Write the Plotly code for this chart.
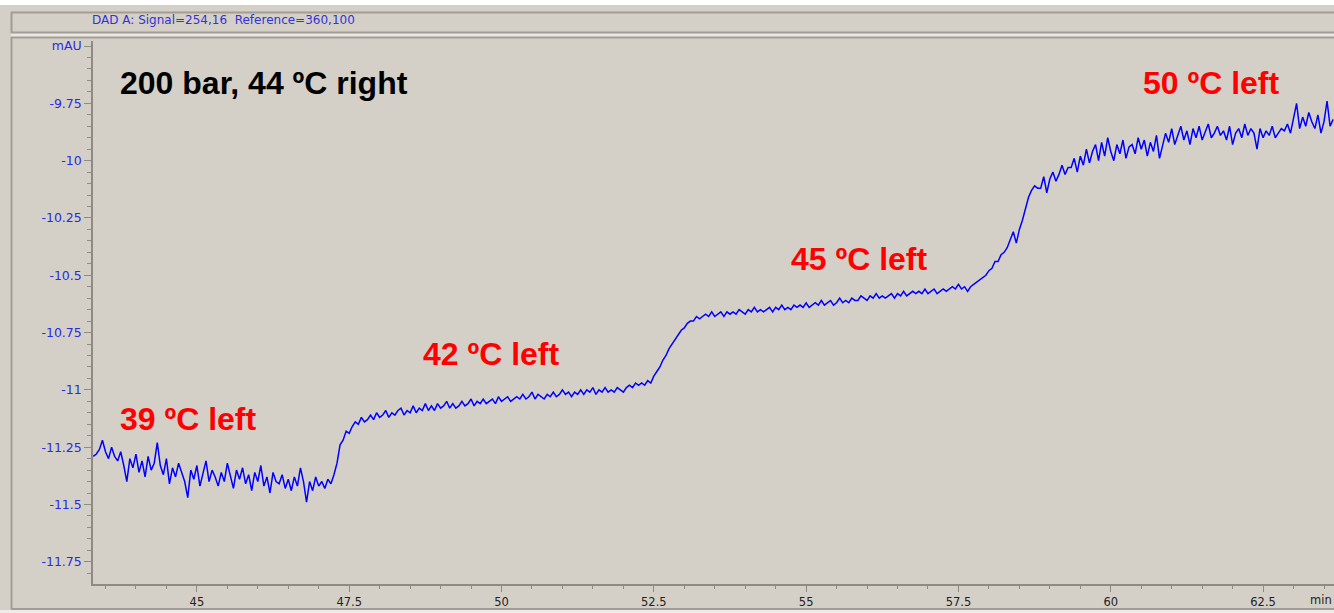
import plotly.graph_objects as go

# ---------------- data ----------------
sample_start_min = 43.30
sample_step_min = 0.05

signal_mau = [
    -11.29,
    -11.28, -11.26, -11.22, -11.27, -11.30, -11.25, -11.29, -11.31, -11.27, -11.33,
    -11.40, -11.30, -11.34, -11.28, -11.36, -11.31, -11.38, -11.29, -11.35, -11.32,
    -11.23, -11.33, -11.37, -11.30, -11.41, -11.34, -11.38, -11.32, -11.36, -11.40,
    -11.47, -11.35, -11.39, -11.33, -11.42, -11.36, -11.31, -11.40, -11.35, -11.38,
    -11.42, -11.36, -11.40, -11.32, -11.37, -11.43, -11.35, -11.39, -11.34, -11.41,
    -11.37, -11.44, -11.36, -11.40, -11.33, -11.42, -11.38, -11.45, -11.36, -11.40,
    -11.41, -11.37, -11.43, -11.39, -11.44, -11.38, -11.42, -11.34, -11.40, -11.49,
    -11.40, -11.44, -11.38, -11.42, -11.40, -11.43, -11.39, -11.41, -11.37, -11.32,
    -11.24, -11.22, -11.18, -11.19, -11.16, -11.14, -11.15, -11.12, -11.14, -11.13,
    -11.11, -11.13, -11.10, -11.12, -11.11, -11.09, -11.12, -11.10, -11.11, -11.09,
    -11.08, -11.11, -11.09, -11.10, -11.07, -11.10, -11.08, -11.09, -11.06, -11.09,
    -11.07, -11.09, -11.06, -11.08, -11.07, -11.05, -11.08, -11.06, -11.08, -11.07,
    -11.05, -11.07, -11.06, -11.04, -11.07, -11.05, -11.06, -11.04, -11.06, -11.05,
    -11.04, -11.06, -11.03, -11.05, -11.04, -11.03, -11.05, -11.04, -11.03, -11.04,
    -11.02, -11.04, -11.03, -11.01, -11.04, -11.02, -11.03, -11.04, -11.02, -11.03,
    -11.01, -11.03, -11.02, -11.00, -11.02, -11.01, -11.03, -11.01, -11.02, -11.00,
    -11.02, -11.00, -11.01, -10.99, -11.02, -11.00, -11.01, -10.99, -11.01, -11.00,
    -11.01, -10.99, -11.00, -11.01, -10.99, -10.98, -10.99, -10.97, -10.98, -10.97,
    -10.98, -10.96, -10.97, -10.94, -10.92, -10.90, -10.87, -10.85, -10.82, -10.80,
    -10.78, -10.76, -10.74, -10.73, -10.71, -10.70, -10.70, -10.68, -10.69, -10.68,
    -10.67, -10.68, -10.66, -10.68, -10.67, -10.66, -10.68, -10.66, -10.67, -10.66,
    -10.67, -10.65, -10.66, -10.67, -10.65, -10.66, -10.64, -10.66, -10.65, -10.66,
    -10.65, -10.64, -10.66, -10.64, -10.65, -10.63, -10.65, -10.64, -10.65, -10.63,
    -10.64, -10.63, -10.64, -10.62, -10.64, -10.63, -10.62, -10.63, -10.61, -10.63,
    -10.62, -10.61, -10.63, -10.62, -10.60, -10.62, -10.61, -10.62, -10.60, -10.61,
    -10.61, -10.59, -10.60, -10.61, -10.59, -10.60, -10.58, -10.60, -10.59, -10.60,
    -10.59, -10.58, -10.60, -10.58, -10.59, -10.57, -10.59, -10.58, -10.57, -10.58,
    -10.57, -10.58, -10.56, -10.58, -10.57, -10.56, -10.58, -10.57, -10.56, -10.57,
    -10.56, -10.55, -10.56, -10.54, -10.56, -10.55, -10.57, -10.55, -10.54, -10.53,
    -10.52, -10.51, -10.50, -10.48, -10.47, -10.44, -10.44, -10.41, -10.40, -10.38,
    -10.34, -10.31, -10.36, -10.30, -10.26, -10.21, -10.16, -10.13, -10.11, -10.12,
    -10.12, -10.07, -10.14, -10.08, -10.05, -10.09, -10.06, -10.02, -10.06, -10.03,
    -10.03, -9.99, -10.05, -9.98, -10.02, -9.95, -10.01, -9.96, -9.93, -10.00,
    -9.92, -9.98, -9.90, -9.96, -10.00, -9.93, -9.97, -9.91, -9.99, -9.94,
    -9.93, -9.97, -9.90, -9.95, -9.91, -9.98, -9.92, -9.96, -9.89, -9.99,
    -9.94, -9.88, -9.92, -9.86, -9.93, -9.89, -9.85, -9.91, -9.87, -9.93,
    -9.86, -9.90, -9.85, -9.91, -9.87, -9.84, -9.90, -9.88, -9.85, -9.89,
    -9.87, -9.91, -9.85, -9.93, -9.88, -9.86, -9.90, -9.84, -9.89, -9.86,
    -9.88, -9.95, -9.86, -9.90, -9.87, -9.89, -9.85, -9.90, -9.88, -9.86,
    -9.87, -9.84, -9.88, -9.82, -9.75, -9.86, -9.81, -9.85, -9.79, -9.83,
    -9.86, -9.80, -9.88, -9.83, -9.74, -9.85, -9.82,
]
time_min = [round(sample_start_min + i * sample_step_min, 3) for i in range(len(signal_mau))]

x_tick_values = [45, 47.5, 50, 52.5, 55, 57.5, 60, 62.5]
x_tick_labels = ["45", "47.5", "50", "52.5", "55", "57.5", "60", "62.5"]
y_tick_values = [-9.5, -9.75, -10, -10.25, -10.5, -10.75, -11, -11.25, -11.5, -11.75]
y_tick_labels = ["mAU", "-9.75", "-10", "-10.25", "-10.5", "-10.75", "-11", "-11.25", "-11.5", "-11.75"]

header_text = "DAD A: Signal=254,16  Reference=360,100"
title_text = "200 bar, 44 ºC right"
title_time, title_level = 43.70, -9.661
label_texts = ["39 ºC left", "42 ºC left", "45 ºC left", "50 ºC left"]
label_times = [43.70, 48.68, 54.72, 60.50]
label_levels = [-11.127, -10.843, -10.429, -9.661]

# ---------------- layout geometry ----------------
W, H = 1334, 613
ML, MR, MT, MB = 93, 0, 41, 29
PW, PH = W - ML - MR, H - MT - MB
BG = "#d4d0c8"
EDGE = "#a19d95"
AXIS = "#8e8b85"


def px(x):
    return (x - ML) / PW


def py(y):
    return (H - MB - y) / PH


fig = go.Figure()
fig.add_trace(go.Scatter(
    x=time_min, y=signal_mau, mode="lines",
    line=dict(color="#0000ff", width=1.5),
    hoverinfo="skip", showlegend=False,
))

shapes = []
shapes.append(dict(type="rect", xref="paper", yref="paper", x0=px(0), x1=px(W + 5),
                   y0=py(5), y1=py(-5), fillcolor="#ffffff", line=dict(width=0), layer="below"))
shapes.append(dict(type="rect", xref="paper", yref="paper", x0=px(11), x1=px(W + 5),
                   y0=py(37), y1=py(33), fillcolor="#e9e7e2", line=dict(width=0), layer="below"))
for yy in (12.5, 32.5, 37.5):
    shapes.append(dict(type="line", xref="paper", yref="paper", x0=px(11), x1=px(W + 5),
                       y0=py(yy), y1=py(yy), line=dict(color=EDGE, width=2), layer="below"))
shapes.append(dict(type="line", xref="paper", yref="paper", x0=px(11.5), x1=px(11.5),
                   y0=py(12), y1=py(33), line=dict(color=EDGE, width=2), layer="below"))
shapes.append(dict(type="line", xref="paper", yref="paper", x0=px(11.5), x1=px(11.5),
                   y0=py(37), y1=py(609), line=dict(color=EDGE, width=2), layer="below"))
shapes.append(dict(type="line", xref="paper", yref="paper", x0=px(11), x1=px(W + 5),
                   y0=py(609), y1=py(609), line=dict(color=EDGE, width=2), layer="below"))
shapes.append(dict(type="rect", xref="paper", yref="paper", x0=px(0), x1=px(W + 5),
                   y0=py(H + 2), y1=py(610), fillcolor="#eeece8", line=dict(width=0), layer="below"))

annotations = [
    dict(xref="paper", yref="paper", x=px(90), y=py(20), xanchor="left", yanchor="middle",
         text=header_text, showarrow=False,
         font=dict(family="DejaVu Sans", size=12, color="#3333d6")),
    dict(xref="paper", yref="paper", x=px(1334), y=py(600), xanchor="right", yanchor="middle",
         text="min", showarrow=False,
         font=dict(family="DejaVu Sans", size=11.5, color="#222222")),
    dict(xref="x", yref="y", x=title_time, y=title_level, xanchor="left", yanchor="middle",
         text=title_text, showarrow=False,
         font=dict(family="Liberation Sans, Arial", size=32, color="#000000", weight="bold")),
]
for txt, tx, ty in zip(label_texts, label_times, label_levels):
    annotations.append(dict(xref="x", yref="y", x=tx, y=ty, xanchor="left", yanchor="middle",
                            text=txt, showarrow=False,
                            font=dict(family="Liberation Sans, Arial", size=32,
                                      color="#ff0000", weight="bold")))

fig.update_layout(
    width=W, height=H, autosize=False,
    margin=dict(l=ML, r=MR, t=MT, b=MB, pad=0),
    paper_bgcolor=BG, plot_bgcolor=BG,
    shapes=shapes, annotations=annotations,
    xaxis=dict(
        range=[43.295, 63.664], showgrid=False, zeroline=False,
        showline=True, linecolor=AXIS, linewidth=1.5,
        tickmode="array", tickvals=x_tick_values, ticktext=x_tick_labels,
        ticks="outside", ticklen=6, tickcolor=AXIS, tickwidth=1,
        minor=dict(dtick=0.5, tick0=45, ticks="outside", ticklen=3, tickcolor=AXIS, showgrid=False),
        tickfont=dict(family="DejaVu Sans", size=11.5, color="#222222"),
    ),
    yaxis=dict(
        range=[-11.847, -9.478], showgrid=False, zeroline=False,
        showline=True, linecolor=AXIS, linewidth=1.5,
        tickmode="array", tickvals=y_tick_values, ticktext=y_tick_labels,
        ticks="outside", ticklen=7, tickcolor=AXIS, tickwidth=1,
        minor=dict(dtick=0.05, tick0=-9.5, ticks="outside", ticklen=4, tickcolor=AXIS, showgrid=False),
        tickfont=dict(family="DejaVu Sans", size=12.5, color="#2a2ae0"),
    ),
)

fig.write_html("out.html", config={"displayModeBar": False},
               post_script="document.body.style.margin='0';")
